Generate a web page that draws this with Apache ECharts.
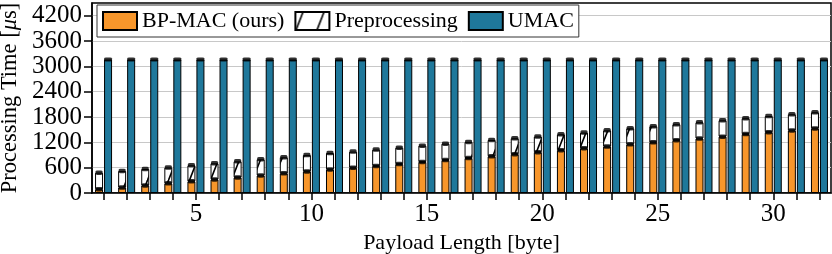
<!DOCTYPE html>
<html>
<head>
<meta charset="utf-8">
<script src="https://cdn.jsdelivr.net/npm/echarts@6/dist/echarts.min.js"></script>
<style>
html,body{margin:0;padding:0;background:#fff;}
#chart{width:832px;height:254px;}
</style>
</head>
<body>
<div id="chart"></div>
<script>
const categories = [1,2,3,4,5,6,7,8,9,10,11,12,13,14,15,16,17,18,19,20,21,22,23,24,25,26,27,28,29,30,31,32];
const bpmac = [90,130,180,228,276,322,370,415,465,512,558,600,642,685,735,780,828,870,920,968,1015,1060,1100,1152,1200,1252,1290,1335,1395,1440,1482,1530];
const preproc = [392,392,388,374,379,381,380,383,381,386,388,380,386,389,387,388,382,385,376,370,375,370,384,380,380,376,385,387,375,382,383,382];
const umac = [3160,3160,3160,3160,3160,3160,3160,3160,3160,3160,3160,3160,3160,3160,3160,3160,3160,3160,3160,3160,3160,3160,3160,3160,3160,3160,3160,3160,3160,3160,3160,3160];
const yTicks = [0,600,1200,1800,2400,3000,3600,4200];
const xLabelShown = [5,10,15,20,25,30];

const FONT = 'Liberation Serif';
const ORANGE = '#F7962B';
const BLUE = '#1F789B';

// hatch pattern for preprocessing
const pc = document.createElement('canvas');
pc.width = 21; pc.height = 54;
const g = pc.getContext('2d');
g.fillStyle = '#fff';
g.fillRect(0, 0, 21, 54);
g.strokeStyle = '#000';
g.lineWidth = 1.6;
for (let k = -1; k <= 2; k++) {
  g.beginPath();
  g.moveTo(7.6 + 21 * k, 0);
  g.lineTo(7.6 + 21 * k - 21, 54);
  g.stroke();
}

const totals = bpmac.map((v, i) => v + preproc[i]);

const chart = echarts.init(document.getElementById('chart'), null, {renderer: 'canvas'});
chart.setOption({
  animation: false,
  backgroundColor: '#fff',
  grid: {left: 92, right: 1, top: 3, bottom: 61, containLabel: false, outerBoundsMode: 'none',
         show: true, borderColor: '#000', borderWidth: 1.5, backgroundColor: '#fff'},
  legend: {
    data: ['BP-MAC (ours)', 'Preprocessing', 'UMAC'],
    icon: 'rect',
    left: 97, top: 5,
    padding: [5, 5, 5, 5],
    itemWidth: 34, itemHeight: 18, itemGap: 10,
    backgroundColor: '#fff',
    borderColor: '#333', borderWidth: 1,
    textStyle: {fontFamily: FONT, fontSize: 22, color: '#000'}
  },
  xAxis: {
    type: 'category',
    data: categories,
    boundaryGap: true,
    name: 'Payload Length [byte]',
    nameLocation: 'middle',
    nameGap: 36,
    nameTextStyle: {fontFamily: FONT, fontSize: 22, color: '#000'},
    axisLine: {lineStyle: {color: '#000', width: 1.5}},
    axisTick: {show: true, alignWithLabel: true, interval: 0, length: 7, lineStyle: {color: '#000', width: 1.5}},
    axisLabel: {
      interval: (idx, val) => xLabelShown.indexOf(Number(val)) >= 0,
      fontFamily: FONT, fontSize: 25, color: '#000', margin: 9
    },
    splitLine: {show: false}
  },
  yAxis: {
    type: 'value',
    min: 0, max: 4500, interval: 600,
    name: '{n|Processing Time [}{i|μ}{n|s]}',
    nameLocation: 'middle',
    nameGap: 69,
    nameTextStyle: {
      rich: {
        n: {fontFamily: FONT, fontSize: 22.5, color: '#000'},
        i: {fontFamily: FONT, fontSize: 22.5, color: '#000', fontStyle: 'italic'}
      }
    },
    axisLine: {show: true, lineStyle: {color: '#000', width: 1.5}},
    axisTick: {show: true, length: 8, customValues: yTicks, lineStyle: {color: '#000', width: 1.5}},
    axisLabel: {customValues: yTicks, showMinLabel: true, showMaxLabel: true, hideOverlap: false,
                formatter: v => String(v),
                fontFamily: FONT, fontSize: 25, color: '#000', margin: 10},
    splitLine: {show: true, lineStyle: {color: '#c8c8c8', width: 1}}
  },
  series: [
    {
      name: 'BP-MAC (ours)', type: 'bar', stack: 'mac', data: bpmac,
      barWidth: 8, barGap: '12.5%',
      itemStyle: {color: ORANGE, borderColor: '#000', borderWidth: 1}
    },
    {
      name: 'Preprocessing', type: 'bar', stack: 'mac', data: preproc,
      barWidth: 8, barGap: '12.5%',
      itemStyle: {color: {image: pc, repeat: 'repeat'}, borderColor: '#000', borderWidth: 1}
    },
    {
      name: 'UMAC', type: 'bar', data: umac,
      barWidth: 8, barGap: '12.5%',
      itemStyle: {color: BLUE, borderColor: '#000', borderWidth: 1}
    },
    {
      type: 'scatter', z: 5, silent: true,
      symbol: 'roundRect', symbolSize: [7, 4.5], symbolOffset: [-4.5, 0],
      itemStyle: {color: '#000'},
      data: bpmac.map((v, i) => [i, v]).concat(totals.map((v, i) => [i, v]))
    },
    {
      type: 'scatter', z: 5, silent: true,
      symbol: 'roundRect', symbolSize: [8, 4], symbolOffset: [4.5, 0],
      itemStyle: {color: '#000'},
      data: umac.map((v, i) => [i, v])
    }
  ]
});
</script>
</body>
</html>
